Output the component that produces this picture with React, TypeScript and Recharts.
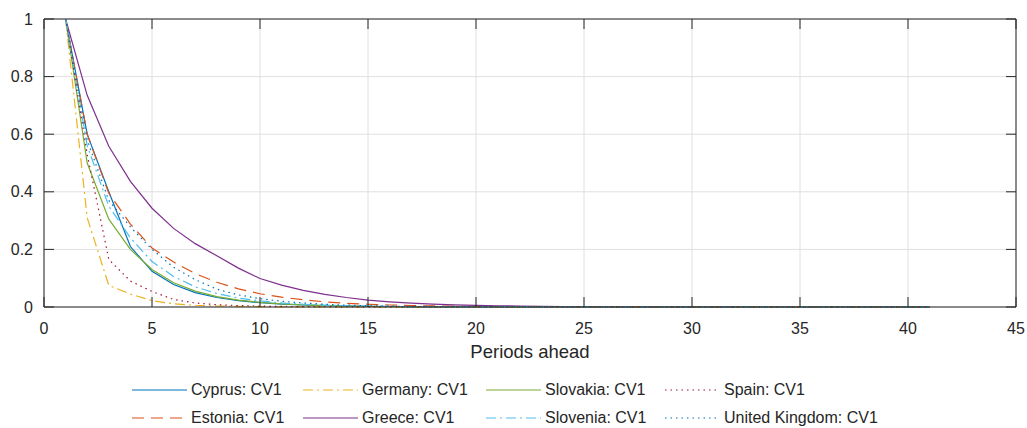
import { LineChart, Line, XAxis, YAxis, CartesianGrid, ReferenceLine } from 'recharts';

// horizon 1..41
const periods = [
  1, 2, 3, 4, 5, 6, 7, 8, 9, 10, 11, 12, 13, 14, 15, 16, 17, 18, 19, 20,
  21, 22, 23, 24, 25, 26, 27, 28, 29, 30, 31, 32, 33, 34, 35, 36, 37, 38, 39, 40, 41,
];

const xTicks = [0, 5, 10, 15, 20, 25, 30, 35, 40, 45];
const yTicks = [0, 0.2, 0.4, 0.6, 0.8, 1];

const cyprus = [
  1, 0.6, 0.4, 0.21, 0.124, 0.078, 0.05, 0.033, 0.022, 0.015,
  0.01, 0.007, 0.005, 0.0035, 0.0025, 0.0018, 0.0012, 0.0008, 0.0005, 0.0003,
  0.0002, 0.0001, 0, 0, 0, 0, 0, 0, 0, 0,
  0, 0, 0, 0, 0, 0, 0, 0, 0, 0,
  0,
];
const estonia = [
  1, 0.6, 0.395, 0.288, 0.205, 0.156, 0.116, 0.086, 0.063, 0.046,
  0.034, 0.025, 0.018, 0.013, 0.0095, 0.007, 0.005, 0.0037, 0.0027, 0.002,
  0.0015, 0.0011, 0.0008, 0.0006, 0.0004, 0.0003, 0.0002, 0.0001, 0, 0,
  0, 0, 0, 0, 0, 0, 0, 0, 0, 0,
  0,
];
const germany = [
  1, 0.31, 0.075, 0.045, 0.022, 0.011, 0.006, 0.0035, 0.002, 0.0012,
  0.0007, 0.0004, 0.0002, 0.0001, 0, 0, 0, 0, 0, 0,
  0, 0, 0, 0, 0, 0, 0, 0, 0, 0,
  0, 0, 0, 0, 0, 0, 0, 0, 0, 0,
  0,
];
const greece = [
  1, 0.735, 0.558, 0.436, 0.343, 0.273, 0.22, 0.178, 0.135, 0.099,
  0.076, 0.058, 0.044, 0.033, 0.024, 0.018, 0.0135, 0.01, 0.0075, 0.0056,
  0.0042, 0.0031, 0.0023, 0.0017, 0.0013, 0.001, 0.0007, 0.0005, 0.0004, 0.0003,
  0.0002, 0.0001, 0, 0, 0, 0, 0, 0, 0, 0,
  0,
];
const slovakia = [
  1, 0.5, 0.305, 0.2, 0.13, 0.084, 0.055, 0.036, 0.024, 0.016,
  0.011, 0.0075, 0.005, 0.0034, 0.0023, 0.0015, 0.001, 0.0007, 0.0005, 0.0003,
  0.0002, 0.0001, 0, 0, 0, 0, 0, 0, 0, 0,
  0, 0, 0, 0, 0, 0, 0, 0, 0, 0,
  0,
];
const slovenia = [
  1, 0.56, 0.35, 0.24, 0.158, 0.106, 0.07, 0.047, 0.031, 0.021,
  0.014, 0.0095, 0.0064, 0.0043, 0.0029, 0.002, 0.0013, 0.0009, 0.0006, 0.0004,
  0.0003, 0.0002, 0.0001, 0, 0, 0, 0, 0, 0, 0,
  0, 0, 0, 0, 0, 0, 0, 0, 0, 0,
  0,
];
const spain = [
  1, 0.53, 0.165, 0.09, 0.054, 0.026, 0.014, 0.008, 0.005, 0.003,
  0.002, 0.0012, 0.0008, 0.0005, 0.0003, 0.0002, 0.0001, 0, 0, 0,
  0, 0, 0, 0, 0, 0, 0, 0, 0, 0,
  0, 0, 0, 0, 0, 0, 0, 0, 0, 0,
  0,
];
const uk = [
  1, 0.58, 0.37, 0.278, 0.2, 0.138, 0.095, 0.062, 0.042, 0.029,
  0.02, 0.014, 0.0095, 0.0065, 0.0045, 0.003, 0.002, 0.0014, 0.001, 0.0007,
  0.0005, 0.0003, 0.0002, 0.0001, 0, 0, 0, 0, 0, 0,
  0, 0, 0, 0, 0, 0, 0, 0, 0, 0,
  0,
];

const seriesKeys = ['cyprus', 'estonia', 'germany', 'greece', 'slovakia', 'slovenia', 'spain', 'uk'];
const seriesNames = [
  'Cyprus: CV1', 'Estonia: CV1', 'Germany: CV1', 'Greece: CV1',
  'Slovakia: CV1', 'Slovenia: CV1', 'Spain: CV1', 'United Kingdom: CV1',
];
const seriesValues = [cyprus, estonia, germany, greece, slovakia, slovenia, spain, uk];

const data = periods.map((p, i) => {
  const row: Record<string, number> = { period: p };
  seriesKeys.forEach((k, j) => { row[k] = seriesValues[j][i]; });
  return row;
});

// matlab-ish line styles
const lineStyles = [
  { color: '#0072BD', dash: undefined },
  { color: '#D95319', dash: '12 7' },
  { color: '#EDB120', dash: '10 4 2 4' },
  { color: '#7E2F8E', dash: undefined },
  { color: '#77AC30', dash: undefined },
  { color: '#4DBEEE', dash: '10 4 2 4' },
  { color: '#A2142F', dash: '1.5 4' },
  { color: '#0072BD', dash: '1.5 4' },
];

const W = 1027;
const H = 428;
const PLOT = { left: 44, right: 1016, top: 19, bottom: 307 };
const AXIS = '#262626';
const FONT = '"Liberation Sans", Arial, Helvetica, sans-serif';

function XTick(props: any) {
  const { x, payload } = props;
  return (
    <g>
      <line x1={x} x2={x} y1={PLOT.bottom} y2={PLOT.bottom - 10} stroke={AXIS} strokeWidth={1} />
      <line x1={x} x2={x} y1={PLOT.top} y2={PLOT.top + 10} stroke={AXIS} strokeWidth={1} />
      <text x={x} y={PLOT.bottom + 21} textAnchor="middle" dominantBaseline="central"
        fontSize={16} fontFamily={FONT} fill={AXIS}>{payload.value}</text>
    </g>
  );
}

function YTick(props: any) {
  const { y, payload } = props;
  return (
    <g>
      <line x1={PLOT.left} x2={PLOT.left + 10} y1={y} y2={y} stroke={AXIS} strokeWidth={1} />
      <line x1={PLOT.right} x2={PLOT.right - 10} y1={y} y2={y} stroke={AXIS} strokeWidth={1} />
      <text x={PLOT.left - 11} y={y} textAnchor="end" dominantBaseline="central"
        fontSize={16} fontFamily={FONT} fill={AXIS}>{String(payload.value)}</text>
    </g>
  );
}

const legendCols = [132, 303, 486, 665];
const legendRows = [390, 418];

function LegendBox() {
  return (
    <>
      {seriesNames.map((name, i) => {
        const col = Math.floor(i / 2);
        const row = i % 2;
        const st = lineStyles[i];
        return (
          <div key={name} style={{
            position: 'absolute', left: legendCols[col], top: legendRows[row] - 10,
            height: 20, display: 'flex', alignItems: 'center', whiteSpace: 'nowrap',
          }}>
            <svg width={55} height={20} style={{ display: 'block' }}>
              <line x1={0} x2={55} y1={10} y2={10} stroke={st.color} strokeWidth={1.2} strokeDasharray={st.dash} />
            </svg>
            <span style={{ marginLeft: 4, fontSize: 16, fontFamily: FONT, color: AXIS }}>{name}</span>
          </div>
        );
      })}
    </>
  );
}

export default function App() {
  return (
    <div style={{ position: 'relative', width: W, height: H, background: '#fff' }}>
      <style>{'body{margin:0;}'}</style>
      <LineChart width={W} height={H} data={data}
        margin={{ top: PLOT.top, right: W - PLOT.right, left: 0, bottom: 0 }}>
        <CartesianGrid stroke="#e0e0e0" strokeWidth={1} />
        <XAxis type="number" dataKey="period" domain={[0, 45]} ticks={xTicks}
          height={H - PLOT.bottom} tickLine={false} tickSize={0} tick={<XTick />}
          axisLine={{ stroke: AXIS }} interval={0}
          label={{ value: 'Periods ahead', position: 'insideTop', offset: 38, fontSize: 18.5, fontFamily: FONT, fill: AXIS }} />
        <YAxis type="number" domain={[0, 1]} ticks={yTicks} width={PLOT.left}
          tickLine={false} tickSize={0} tick={<YTick />} axisLine={{ stroke: AXIS }} interval={0} />
        <ReferenceLine y={1} stroke={AXIS} strokeWidth={1} />
        <ReferenceLine x={45} stroke={AXIS} strokeWidth={1} />
        {seriesKeys.map((k, i) => (
          <Line key={k} type="linear" dataKey={k} name={seriesNames[i]} stroke={lineStyles[i].color}
            strokeWidth={1.2} strokeDasharray={lineStyles[i].dash} dot={false} isAnimationActive={false} />
        ))}
      </LineChart>
      <LegendBox />
    </div>
  );
}
